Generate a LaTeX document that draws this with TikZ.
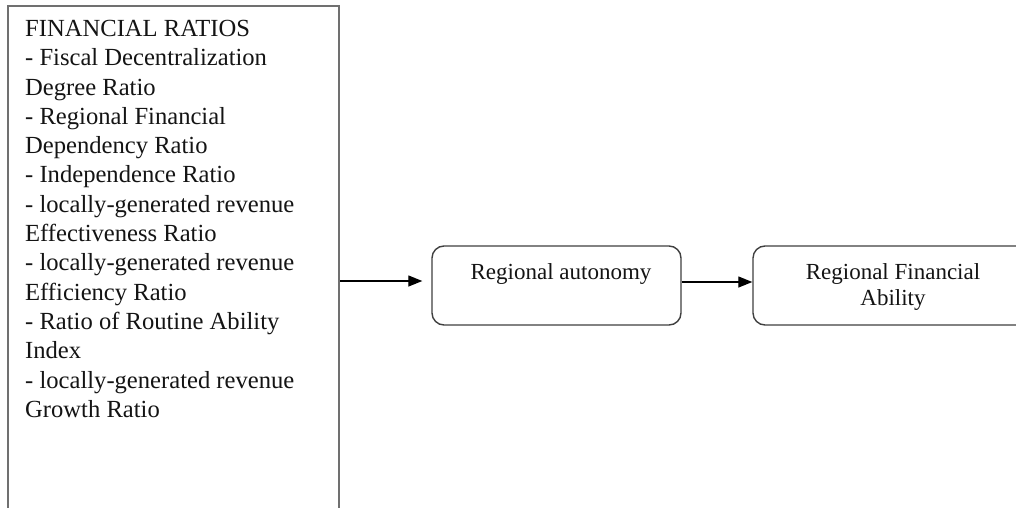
\documentclass[tikz,border=0pt]{standalone}
\usepackage{fontspec}
\setmainfont{Liberation Serif}
\usetikzlibrary{arrows.meta}
\definecolor{boxgray}{HTML}{707070}
\definecolor{rboxgray}{HTML}{404040}
\definecolor{txt}{HTML}{141414}
\begin{document}
\begin{tikzpicture}[x=1pt,y=-1pt,
  plainbox/.style={draw=boxgray,line width=2pt,anchor=north west,inner sep=0pt},
  roundbox/.style={draw=rboxgray,line width=1.4pt,rounded corners=12pt,inner sep=0pt},
  bigtext/.style={text=txt,inner sep=0pt,align=left,font=\fontsize{24.6}{29.3}\selectfont},
  smalltext/.style={text=txt,inner sep=0pt,align=center,font=\fontsize{23}{26}\selectfont},
  conn/.style={draw=black,line width=1.3pt,-{Triangle[length=14pt,width=11pt]}}]
\useasboundingbox (0,0) rectangle (1016,508);
\fill[white] (0,0) rectangle (1016,508);
\begin{scope}
\clip (0,0) rectangle (1016,508);
\node[plainbox,minimum width=331.5pt,minimum height=540pt] (ratios) at (6.5,5) {};
\node[bigtext,anchor=north west] (ratiostext) at (25,20) {FINANCIAL RATIOS\\
- Fiscal Decentralization\\
Degree Ratio\\
- Regional Financial\\
Dependency Ratio\\
- Independence Ratio\\
- locally-generated revenue\\
Effectiveness Ratio\\
- locally-generated revenue\\
Efficiency Ratio\\
- Ratio of Routine Ability\\
Index\\
- locally-generated revenue\\
Growth Ratio};
\node[roundbox,minimum width=249pt,minimum height=79pt] (autonomy) at (556.5,285.5) {};
\node[smalltext,anchor=north] (autonomytext) at (561,263.5) {Regional autonomy};
\node[roundbox,minimum width=280pt,minimum height=79pt] (ability) at (893,285.5) {};
\node[smalltext,anchor=north] (abilitytext) at (893,263.5) {Regional Financial\\Ability};
\coordinate (a1) at (ratios.east |- 0,281);
\coordinate (a2) at (autonomy.west |- 0,281);
\coordinate (b1) at (autonomy.east |- 0,282);
\coordinate (b2) at (ability.west |- 0,282);
\draw[conn,shorten >=9pt] (a1) -- (a2);
\draw[conn] (b1) -- (b2);
\end{scope}
\end{tikzpicture}
\end{document}
